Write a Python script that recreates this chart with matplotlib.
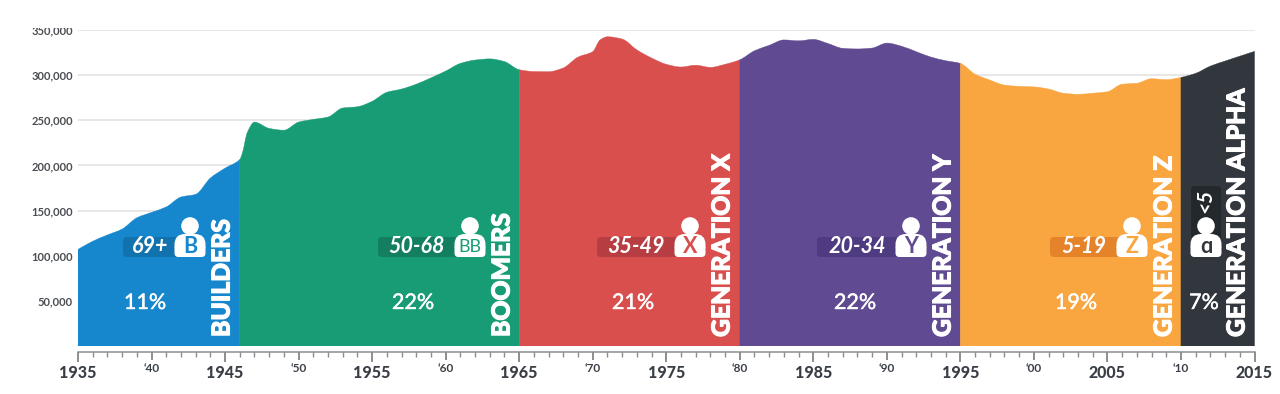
import matplotlib
matplotlib.use("Agg")
import matplotlib.pyplot as plt
import matplotlib.patheffects as pe
import numpy as np
from matplotlib.patches import Circle, FancyBboxPatch, PathPatch, Rectangle
from matplotlib.path import Path
from matplotlib.transforms import Affine2D

W, H = 1280, 394

# births per year
years = [1935, 1936, 1937, 1938, 1939, 1940, 1941, 1942, 1943, 1944, 1945, 1946,
         1946.2, 1946.5, 1947, 1948, 1949, 1950, 1951, 1952, 1953, 1954,
         1955, 1956, 1957, 1958, 1959, 1960, 1961, 1962, 1963, 1964, 1965,
         1966, 1967, 1968, 1969, 1970, 1970.5, 1971, 1972, 1973, 1974, 1975, 1976,
         1977, 1978, 1979, 1980, 1981, 1982, 1983, 1984, 1985, 1986, 1987, 1988,
         1989, 1990, 1991, 1992, 1993, 1994, 1995, 1996, 1997, 1998, 1999, 2000,
         2001, 2002, 2003, 2004, 2005, 2006, 2007, 2008, 2009, 2010, 2011, 2012,
         2013, 2014, 2015]
births = [107000, 116000, 123000, 129500, 142000, 148000, 154000, 165000, 168000,
          186000, 197000, 206500, 215000, 236000, 248000, 241000, 239000,
          248000, 251000, 253600, 263600, 265000, 271000, 281000, 284600, 290000,
          297000, 304500, 313000, 316700, 318000, 315000, 306000, 304000, 303800,
          308000, 320000, 326000, 339000, 342500, 340000, 328000, 319000, 312000,
          309000, 311000, 308600, 312000, 317000, 327000, 333000, 339000, 338000,
          339600, 335000, 329700, 329000, 330000, 335500, 332000, 326000, 320000,
          316000, 313000, 301000, 294600, 289000, 287600, 287000, 284600, 280000,
          278800, 280000, 281600, 290000, 291000, 296000, 295000, 297500, 302000,
          310000, 315600, 321000, 326300]

gen_names = ["BUILDERS", "BOOMERS", "GENERATION X", "GENERATION Y", "GENERATION Z", "GENERATION ALPHA"]
gen_starts = [1935, 1946, 1965, 1980, 1995, 2010]
gen_ends = [1946, 1965, 1980, 1995, 2010, 2015]
gen_ages = ["69+", "50-68", "35-49", "20-34", "5-19", "<5"]
gen_letters = ["B", "BB", "X", "Y", "Z", "\u0251"]
gen_shares = ["11%", "22%", "21%", "22%", "19%", "7%"]
gen_colors = ["#1787cd", "#189c76", "#d94f4d", "#604a91", "#f9a540", "#31373d"]
pill_colors = ["#1272ad", "#137f60", "#b63e42", "#4f3b7f", "#e5832a", "#23282d"]

y_ticks = [0, 50000, 100000, 150000, 200000, 250000, 300000, 350000]
x_majors = list(range(1935, 2016, 5))
x_labels = ["1935", "\u201840", "1945", "\u201850", "1955", "\u201860", "1965", "\u201870", "1975",
            "\u201880", "1985", "\u201890", "1995", "\u201800", "2005", "\u201810", "2015"]

plt.rcParams["font.family"] = ["Lato", "DejaVu Sans"]


def smooth_area(xs, ys, start, end):
    # closed area under the curve between two years, with bezier segments through the readings
    steps = np.diff(ys) / np.diff(xs)
    slopes = np.zeros(len(xs))
    slopes[0], slopes[-1] = steps[0], steps[-1]
    for k in range(1, len(xs) - 1):
        # harmonic mean keeps the curve from overshooting next to steep parts
        if steps[k - 1] * steps[k] > 0:
            slopes[k] = 2 * steps[k - 1] * steps[k] / (steps[k - 1] + steps[k])
    idx = np.where((xs >= start) & (xs <= end))[0]
    verts = [(start, 0), (xs[idx[0]], ys[idx[0]])]
    codes = [Path.MOVETO, Path.LINETO]
    for a, b in zip(idx[:-1], idx[1:]):
        h = (xs[b] - xs[a]) / 3
        verts += [(xs[a] + h, ys[a] + slopes[a] * h), (xs[b] - h, ys[b] - slopes[b] * h), (xs[b], ys[b])]
        codes += [Path.CURVE4] * 3
    verts += [(end, 0), (start, 0)]
    codes += [Path.LINETO, Path.CLOSEPOLY]
    return Path(verts, codes)


fig = plt.figure(figsize=(W / 100, H / 100), dpi=100)
ax = fig.add_axes([78 / W, (H - 346) / H, 1176.5 / W, 316 / H])

# pixel coordinates of the picture, for the labels and icons
px = Affine2D().scale(1 / W, -1 / H).translate(0, 1) + fig.transFigure

xs = np.array(years, dtype=float)
ys = np.array(births, dtype=float)
for start, end, color in zip(gen_starts, gen_ends, gen_colors):
    ax.add_patch(PathPatch(smooth_area(xs, ys, start, end), facecolor=color, edgecolor=color, lw=0.3, zorder=2))

ax.set_xlim(1935, 2015)
ax.set_ylim(0, 350000)
ax.set_yticks(y_ticks)
ax.set_yticklabels([""] + [f"{v:,}" for v in y_ticks[1:]], fontsize=8, fontweight="bold", color="#4a4d52")
ax.tick_params(axis="y", length=0, pad=3.6)
ax.grid(axis="y", color="#e0e0e0", lw=1.1, zorder=0)
ax.set_axisbelow(True)

for side in ["top", "left", "right"]:
    ax.spines[side].set_visible(False)
ax.spines["bottom"].set_position(("outward", 4.1))
ax.spines["bottom"].set_color("#8a8d91")
ax.spines["bottom"].set_linewidth(1.1)

ax.set_xticks(x_majors)
ax.set_xticks(range(1935, 2016), minor=True)
ax.set_xticklabels(x_labels)
ax.tick_params(axis="x", which="major", length=7, width=1.1, color="#6d7075")
ax.tick_params(axis="x", which="minor", length=3.6, width=1, color="#8a8d91")
for i, tick in enumerate(ax.xaxis.get_major_ticks()):
    big = i % 2 == 0
    tick.set_pad(8.2 if big else 4.8)
    tick.label1.set_verticalalignment("center")
    tick.label1.set_fontsize(11.5 if big else 8.5)
    tick.label1.set_fontweight("black" if big else "bold")
    tick.label1.set_color("#3a3f47")
    if not big:
        tick.tick1line.set_markersize(6)

# the top tick label is cut off in the original picture
fig.add_artist(Rectangle((0, 0), W, 28, transform=px, color="white", lw=0, zorder=5))

name_x = [222, 502, 722, 943, 1164, 1237]
share_x = [145, 413, 633, 855, 1076, 1204]
icon_x = [190, 470, 690, 911, 1132, 1206]
age_x = [150, 417, 636, 857, 1084, 1205]
pill_left = [123, 378, 597, 817, 1050, 1191]

for i, name in enumerate(gen_names):
    fig.text(name_x[i], 337, name, transform=px, rotation=90, ha="center", va="bottom",
             fontsize=17.8, fontweight="black", color="white", zorder=6,
             path_effects=[pe.withStroke(linewidth=0.8, foreground="white")])
    fig.text(share_x[i], 303, gen_shares[i], transform=px, ha="center", va="center",
             fontsize=15.5, color="white", zorder=6,
             path_effects=[pe.withStroke(linewidth=0.3, foreground="white")])

    # age pill
    if gen_ages[i] == "<5":
        box = (pill_left[i], 186, 30, 54)
    else:
        box = (pill_left[i], 237, icon_x[i] - pill_left[i], 20)
    fig.add_artist(FancyBboxPatch((box[0] + 4, box[1] + 4), box[2] - 8, box[3] - 8,
                                  boxstyle="round,pad=4,rounding_size=4", transform=px,
                                  color=pill_colors[i], lw=0, zorder=6))
    if gen_ages[i] == "<5":
        fig.text(age_x[i], 201, gen_ages[i], transform=px, rotation=90, ha="center", va="center",
                 fontsize=15, fontweight="bold", style="italic", color="white", zorder=7)
    else:
        fig.text(age_x[i], 247, gen_ages[i], transform=px, ha="center", va="center",
                 fontsize=15.5, fontweight="bold", style="italic", color="white", zorder=7)

    # person icon: head, shoulders and a squarer lower body
    cx = icon_x[i]
    fig.add_artist(Circle((cx, 226), 8.8, transform=px, color="white", lw=0, zorder=8))
    fig.add_artist(FancyBboxPatch((cx - 5, 244.5), 10, 0.5, boxstyle="round,pad=10.5,rounding_size=10.5",
                                  transform=px, color="white", lw=0, zorder=8))
    fig.add_artist(FancyBboxPatch((cx - 11.5, 248), 23, 5, boxstyle="round,pad=4,rounding_size=4",
                                  transform=px, color="white", lw=0, zorder=8))
    letter = gen_letters[i]
    fig.text(cx, 247, letter, transform=px, ha="center", va="center",
             fontsize=13 if letter == "BB" else 15.5,
             fontweight="normal" if letter == "BB" else "bold",
             color=gen_colors[i], zorder=9)

fig.savefig("out.png", dpi=100)
